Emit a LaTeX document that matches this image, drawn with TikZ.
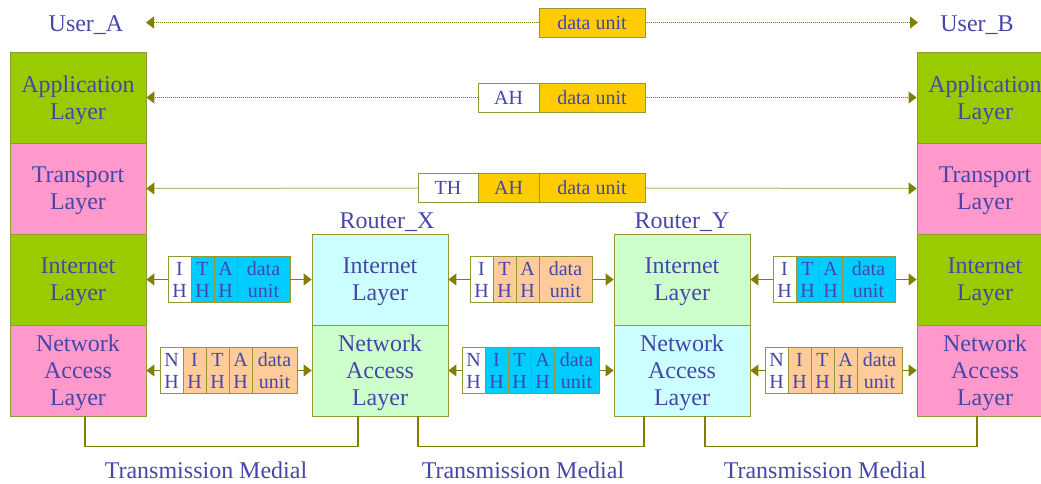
\documentclass[tikz,border=0pt]{standalone}
\usepackage{fontspec}
\setmainfont{Liberation Serif}
\usetikzlibrary{arrows.meta}

\definecolor{txt}{RGB}{70,70,170}
\definecolor{boxline}{RGB}{150,150,50}
\definecolor{olivearrow}{RGB}{128,128,0}
\definecolor{appgreen}{RGB}{153,204,0}
\definecolor{tpink}{RGB}{255,153,204}
\definecolor{pcyan}{RGB}{204,255,255}
\definecolor{pgreen}{RGB}{204,255,204}
\definecolor{gold}{RGB}{255,204,0}
\definecolor{hcyan}{RGB}{0,204,255}
\definecolor{peach}{RGB}{255,204,153}

\begin{document}
\begin{tikzpicture}[x=1pt,y=-1pt,>={Triangle[length=8pt,width=12pt]},
  layer/.style={draw=boxline,line width=0.8pt,minimum width=136pt,minimum height=91pt,
    inner sep=0pt,text depth=0pt,align=center,text=txt,font=\fontsize{24}{27}\selectfont},
  cell/.style={draw=boxline,line width=0.8pt,minimum width=23pt,minimum height=46pt,
    inner sep=0pt,align=center,text=txt,font=\fontsize{20}{22}\selectfont},
  bar/.style={draw=boxline,line width=0.8pt,minimum height=29pt,inner sep=0pt,
    text=txt,font=\fontsize{20}{22}\selectfont},
  title/.style={text=txt,font=\fontsize{24}{26}\selectfont,anchor=base,inner sep=0pt},
  peer/.style={->,draw=olivearrow,fill=olivearrow,line width=1pt,densely dotted},
  link/.style={->,draw=olivearrow,fill=olivearrow,line width=1.2pt},
  medium/.style={draw=olivearrow,line width=1.6pt}]

  \useasboundingbox (0,0) rectangle (1041,484);

  % end hosts
  \node[title] (userA) at (86,32) {User\_A};
  \node[title] (userB) at (977,32) {User\_B};
  \node[layer,fill=appgreen] (lsApp) at (78,97.5) {Application\\Layer};
  \node[layer,fill=tpink]    (lsTr)  at (78,188.5) {Transport\\Layer};
  \node[layer,fill=appgreen] (lsInt) at (78,279.5) {Internet\\Layer};
  \node[layer,fill=tpink]    (lsNet) at (78,370.5) {Network\\Access\\Layer};
  \node[layer,fill=appgreen] (rsApp) at (985,97.5) {Application\\Layer};
  \node[layer,fill=tpink]    (rsTr)  at (985,188.5) {Transport\\Layer};
  \node[layer,fill=appgreen] (rsInt) at (985,279.5) {Internet\\Layer};
  \node[layer,fill=tpink]    (rsNet) at (985,370.5) {Network\\Access\\Layer};

  % routers
  \node[title] (routerX) at (387,228) {Router\_X};
  \node[title] (routerY) at (682,228) {Router\_Y};
  \node[layer,fill=pcyan]  (rxInt) at (380,279.5) {Internet\\Layer};
  \node[layer,fill=pgreen] (rxNet) at (380,370.5) {Network\\Access\\Layer};
  \node[layer,fill=pgreen] (ryInt) at (682,279.5) {Internet\\Layer};
  \node[layer,fill=pcyan]  (ryNet) at (682,370.5) {Network\\Access\\Layer};

  % peer units
  \coordinate (uaTip) at (146,22.5);
  \coordinate (ubTip) at (918,22.5);
  \node[bar,fill=gold,minimum width=106pt] (duD) at (592,22.5) {data unit};
  \node[bar,fill=white,minimum width=61pt] (apA) at (508.5,97.5) {AH};
  \node[bar,fill=gold,minimum width=106pt] (apD) at (592,97.5) {data unit};
  \node[bar,fill=white,minimum width=60pt] (trT) at (448,188) {TH};
  \node[bar,fill=gold,minimum width=61pt]  (trA) at (508.5,188) {AH};
  \node[bar,fill=gold,minimum width=106pt] (trD) at (592,188) {data unit};

  \draw[peer] (duD.west) -- (uaTip);
  \draw[peer] (duD.east) -- (ubTip);
  \draw[peer] (apA.west) -- (lsApp.east);
  \draw[peer] (apD.east) -- (rsApp.west);
  \draw[peer] (trT.west) -- (lsTr.east);
  \draw[peer] (trD.east) -- (rsTr.west);

  % internet datagrams
  \node[cell,fill=white] (liI) at (179.5,279.5) {I\\H};
  \node[cell,fill=hcyan] (liT) at (202.5,279.5) {T\\H};
  \node[cell,fill=hcyan] (liA) at (225.5,279.5) {A\\H};
  \node[cell,fill=hcyan,minimum width=53pt] (liD) at (263.5,279.5) {data\\unit};
  \node[cell,fill=white] (miI) at (481.5,279.5) {I\\H};
  \node[cell,fill=peach] (miT) at (504.5,279.5) {T\\H};
  \node[cell,fill=peach] (miA) at (527.5,279.5) {A\\H};
  \node[cell,fill=peach,minimum width=53pt] (miD) at (565.5,279.5) {data\\unit};
  \node[cell,fill=white] (riI) at (784.5,279.5) {I\\H};
  \node[cell,fill=hcyan] (riT) at (807.5,279.5) {T\\H};
  \node[cell,fill=hcyan] (riA) at (830.5,279.5) {A\\H};
  \node[cell,fill=hcyan,minimum width=53pt] (riD) at (868.5,279.5) {data\\unit};

  \draw[link] (liI.west) -- (lsInt.east);
  \draw[link] (liD.east) -- (rxInt.west);
  \draw[link] (miI.west) -- (rxInt.east);
  \draw[link] (miD.east) -- (ryInt.west);
  \draw[link] (riI.west) -- (ryInt.east);
  \draw[link] (riD.east) -- (rsInt.west);

  % frames
  \node[cell,fill=white] (lnN) at (171.5,370.5) {N\\H};
  \node[cell,fill=peach] (lnI) at (194.5,370.5) {I\\H};
  \node[cell,fill=peach] (lnT) at (217.5,370.5) {T\\H};
  \node[cell,fill=peach] (lnA) at (240.5,370.5) {A\\H};
  \node[cell,fill=peach,minimum width=45pt] (lnD) at (274.5,370.5) {data\\unit};
  \node[cell,fill=white] (mnN) at (473.5,370.5) {N\\H};
  \node[cell,fill=hcyan] (mnI) at (496.5,370.5) {I\\H};
  \node[cell,fill=hcyan] (mnT) at (519.5,370.5) {T\\H};
  \node[cell,fill=hcyan] (mnA) at (542.5,370.5) {A\\H};
  \node[cell,fill=hcyan,minimum width=45pt] (mnD) at (576.5,370.5) {data\\unit};
  \node[cell,fill=white] (rnN) at (776.5,370.5) {N\\H};
  \node[cell,fill=peach] (rnI) at (799.5,370.5) {I\\H};
  \node[cell,fill=peach] (rnT) at (822.5,370.5) {T\\H};
  \node[cell,fill=peach] (rnA) at (845.5,370.5) {A\\H};
  \node[cell,fill=peach,minimum width=45pt] (rnD) at (879.5,370.5) {data\\unit};

  \draw[link] (lnN.west) -- (lsNet.east);
  \draw[link] (lnD.east) -- (rxNet.west);
  \draw[link] (mnN.west) -- (rxNet.east);
  \draw[link] (mnD.east) -- (ryNet.west);
  \draw[link] (rnN.west) -- (ryNet.east);
  \draw[link] (rnD.east) -- (rsNet.west);

  % transmission media
  \draw[medium] ([xshift=7pt]lsNet.south) -- ++(0,30) -| ([xshift=-22pt]rxNet.south);
  \draw[medium] ([xshift=38pt]rxNet.south) -- ++(0,30) -| ([xshift=-38pt]ryNet.south);
  \draw[medium] ([xshift=23pt]ryNet.south) -- ++(0,30) -| ([xshift=-8pt]rsNet.south);
  \node[title] (medA) at (206,478) {Transmission Medial};
  \node[title] (medB) at (523,478) {Transmission Medial};
  \node[title] (medC) at (825,478) {Transmission Medial};
\end{tikzpicture}
\end{document}
